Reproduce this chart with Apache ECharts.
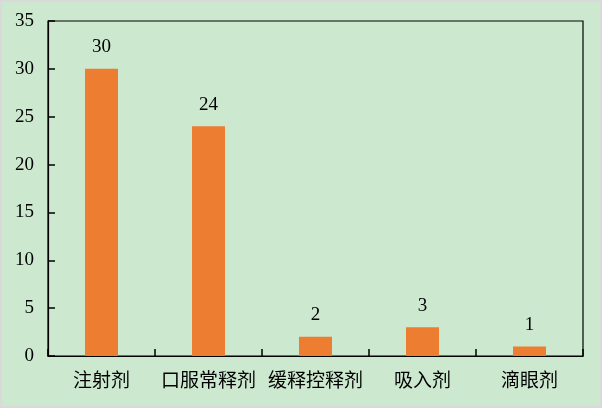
<!DOCTYPE html>
<html>
<head>
<meta charset="utf-8">
<script src="https://cdn.jsdelivr.net/npm/echarts@6/dist/echarts.min.js"></script>
<style>
  html, body { margin: 0; padding: 0; }
  #wrap {
    width: 602px;
    height: 408px;
    box-sizing: border-box;
    border: 2px solid #d9d9d9;
    background: #cce8cf;
  }
  #chart { width: 598px; height: 404px; }
</style>
</head>
<body>
<div id="wrap"><div id="chart"></div></div>
<script>
  const categories = ['注射剂', '口服常释剂', '缓释控释剂', '吸入剂', '滴眼剂'];
  const counts = [30, 24, 2, 3, 1];
  const yTicks = { min: 0, max: 35, interval: 5 };

  const chart = echarts.init(document.getElementById('chart'));

  const numFont = "'Times New Roman', 'Liberation Serif', serif";
  const cjkFont = "'Noto Sans CJK SC', sans-serif";

  const option = {
    animation: false,
    backgroundColor: 'transparent',
    grid: {
      show: true,
      left: 46,
      right: 17,
      top: 19,
      bottom: 50,
      borderColor: '#000',
      borderWidth: 1.2,
      backgroundColor: 'transparent'
    },
    xAxis: {
      type: 'category',
      data: categories,
      boundaryGap: true,
      axisLine: { show: true, lineStyle: { color: '#000', width: 1.2 } },
      axisTick: {
        show: true,
        inside: true,
        length: 7,
        alignWithLabel: false,
        lineStyle: { color: '#000', width: 1.5 }
      },
      axisLabel: {
        interval: 0,
        color: '#000',
        fontSize: 19,
        fontFamily: cjkFont,
        margin: 14
      },
      splitLine: { show: false }
    },
    yAxis: {
      type: 'value',
      min: yTicks.min,
      max: yTicks.max,
      interval: yTicks.interval,
      axisLine: { show: true, lineStyle: { color: '#000', width: 1.2 } },
      axisTick: { show: true, inside: true, length: 7, lineStyle: { color: '#000', width: 1.5 } },
      axisLabel: {
        color: '#000',
        fontSize: 19,
        fontFamily: numFont,
        margin: 14
      },
      splitLine: { show: false }
    },
    series: [
      {
        type: 'bar',
        data: counts,
        barWidth: 33,
        itemStyle: { color: '#ed7d31' },
        label: {
          show: true,
          position: 'top',
          distance: 12,
          color: '#000',
          fontSize: 19,
          fontFamily: numFont
        }
      }
    ]
  };

  chart.setOption(option);
</script>
</body>
</html>
